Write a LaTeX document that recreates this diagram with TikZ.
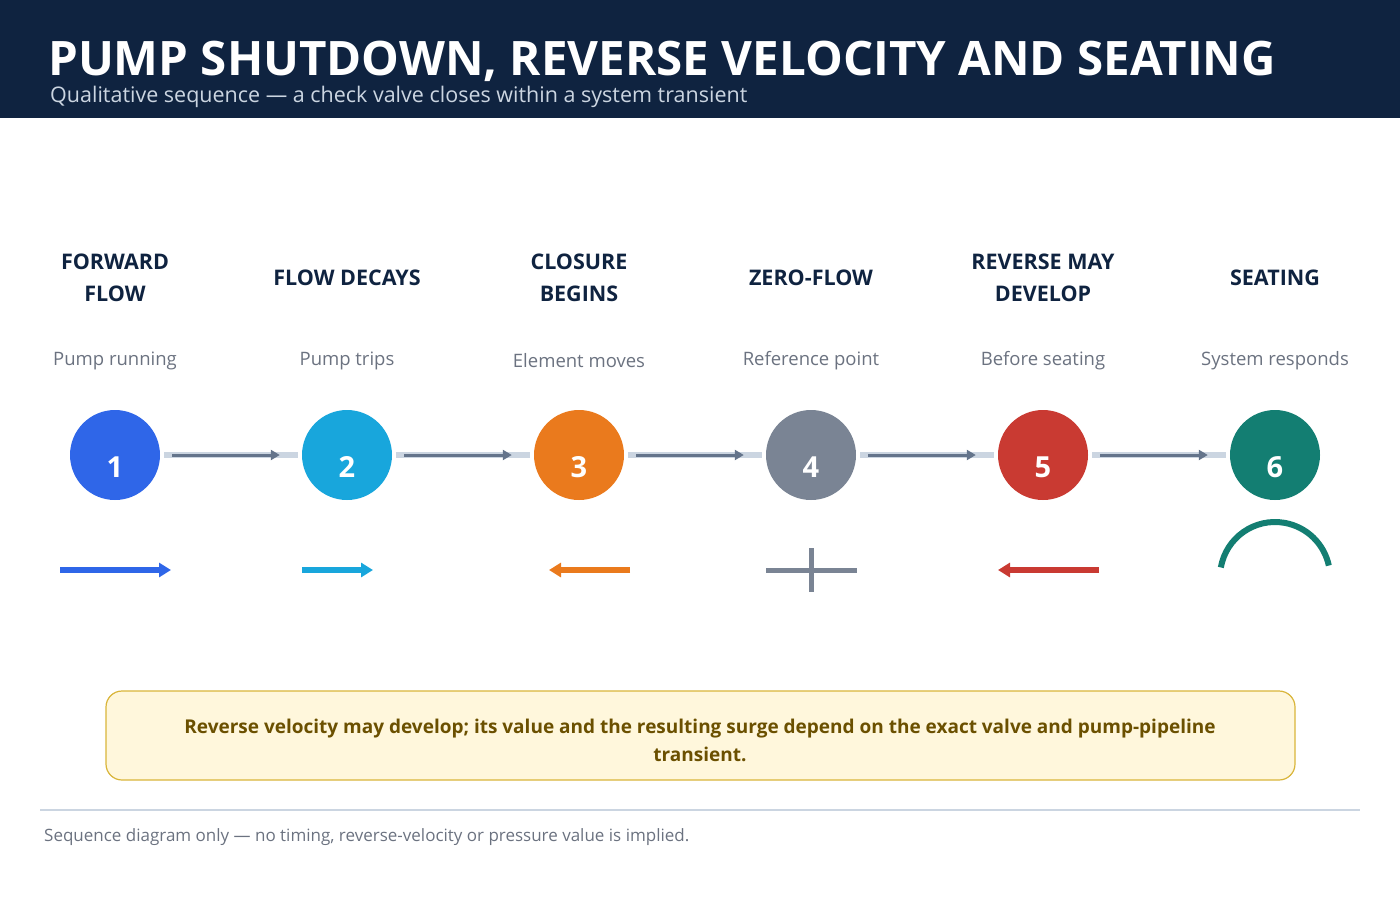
\documentclass[tikz,border=0pt]{standalone}
\usepackage{fontspec}
\setmainfont{Open Sans}
\usetikzlibrary{arrows.meta}
\definecolor{navy}{HTML}{0F2340}
\definecolor{bar}{HTML}{CBD5E1}
\definecolor{darr}{HTML}{64748B}
\definecolor{cA}{HTML}{2F66E8}
\definecolor{cB}{HTML}{18A6DC}
\definecolor{cC}{HTML}{EA7A1D}
\definecolor{cD}{HTML}{7A8494}
\definecolor{cE}{HTML}{C93A32}
\definecolor{cF}{HTML}{137E72}
\definecolor{sub}{HTML}{6B7280}
\definecolor{notetx}{HTML}{6B5000}
\definecolor{notebd}{HTML}{D9B53A}
\definecolor{notebg}{HTML}{FFF7DC}
\begin{document}
\begin{tikzpicture}[x=1pt,y=-1pt,
 stepnode/.style={circle,minimum size=90pt,inner sep=0pt},
 num/.style={text=white,font=\bfseries\fontsize{29}{32}\selectfont},
 ttl/.style={align=center,text=navy,font=\bfseries\fontsize{21.5}{32}\selectfont},
 sb/.style={text=sub,font=\fontsize{18.5}{20}\selectfont},
 ico/.style={line width=6pt,-{Triangle[length=12pt,width=14pt]}}]
\useasboundingbox (0,0) rectangle (1400,900);
\fill[navy] (0,0) rectangle (1400,118);
\node[anchor=base west,text=white,font=\bfseries\fontsize{47.5}{50}\selectfont,inner sep=0] (t) at (48,75) {PUMP SHUTDOWN, REVERSE VELOCITY AND SEATING};
\node[anchor=base west,text=bar,font=\fontsize{21.5}{24}\selectfont,inner sep=0] (st) at (50,102) {Qualitative sequence — a check valve closes within a system transient};
\foreach \i/\x/\c/\t/\s in {1/115/cA/{FORWARD\\FLOW}/Pump running,2/347/cB/{FLOW DECAYS}/Pump trips,3/579/cC/{CLOSURE\\BEGINS}/Element moves,4/811/cD/{ZERO-FLOW}/Reference point,5/1043/cE/{REVERSE MAY\\DEVELOP}/Before seating,6/1275/cF/{SEATING}/System responds}{
 \node[stepnode,fill=\c] (n\i) at (\x,455) {};
 \node[num] (m\i) at (\x,467) {\i};
 \node[ttl] (h\i) at (\x,278) {\t};
 \node[sb] (s\i) at (\x,361) {\s};
}
\foreach \a/\b in {1/2,2/3,3/4,4/5,5/6}{
 \draw[bar,line width=6pt] ([xshift=4pt]n\a.east) -- ([xshift=-4pt]n\b.west);
 \draw[darr,line width=3pt,-{Triangle[length=9pt,width=10pt]}] ([xshift=12pt]n\a.east) -- ([xshift=-22pt]n\b.west);
}
\coordinate (a1) at (60,570); \coordinate (b1) at (171,570);
\draw[ico,cA] (a1) -- (b1);
\coordinate (a2) at (302,570); \coordinate (b2) at (373,570);
\draw[ico,cB] (a2) -- (b2);
\coordinate (a3) at (630,570); \coordinate (b3) at (549,570);
\draw[ico,cC] (a3) -- (b3);
\coordinate (a4) at (766,570); \coordinate (b4) at (857,570);
\coordinate (c4) at (811,548); \coordinate (d4) at (811,592);
\draw[cD,line width=5pt] (a4) -- (b4) (c4) -- (d4);
\coordinate (a5) at (1099,570); \coordinate (b5) at (998,570);
\draw[ico,cE] (a5) -- (b5);
\draw[cF,line width=6pt] (1275,577) ++(-170:55) arc[start angle=-170,end angle=-12,radius=55];
\draw[fill=notebg,draw=notebd,line width=1.2pt,rounded corners=16pt] (106,691) rectangle (1295,780);
\node[align=center,text=notetx,font=\bfseries\fontsize{19}{28}\selectfont] (note) at (700,740) {Reverse velocity may develop; its value and the resulting surge depend on the exact valve and pump-pipeline\\transient.};
\draw[bar,line width=1.2pt] (40,810) -- (1360,810);
\node[anchor=base west,inner sep=0,text=sub,font=\fontsize{17}{20}\selectfont] (ft) at (44,841) {Sequence diagram only — no timing, reverse-velocity or pressure value is implied.};
\end{tikzpicture}
\end{document}
